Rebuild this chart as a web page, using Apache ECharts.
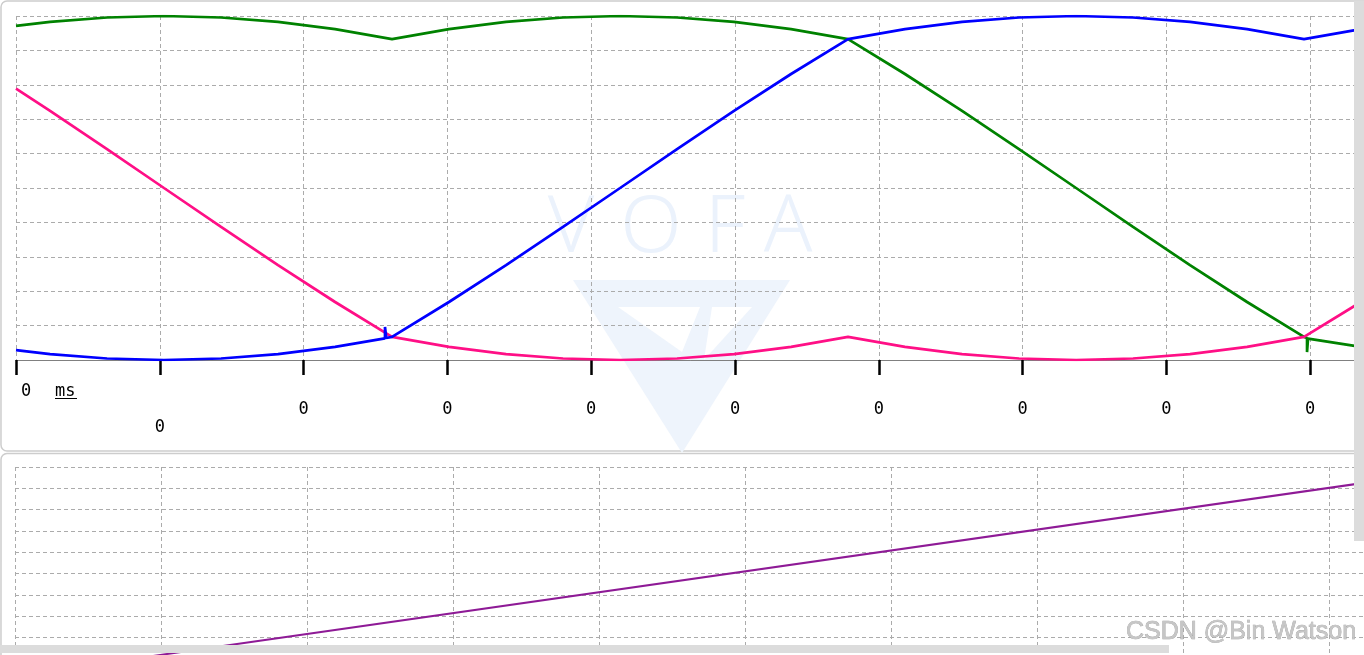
<!DOCTYPE html>
<html><head><meta charset="utf-8">
<script src="https://cdn.jsdelivr.net/npm/echarts@6/dist/echarts.min.js"></script>
<style>html,body{margin:0;padding:0;background:#fff;overflow:hidden}#c{width:1364px;height:655px}</style>
</head><body><div id="c"></div>
<script>
// tick labels of the time axis (all read as "0") and the unit
const tickLabels = ['0','0','0','0','0','0','0','0','0','0','0'];
const unitLabel = 'ms';

// phase A (green) : [time, duty]
const greenData = [[0,9.713],[0.237,9.830],[0.633,9.957],[1.029,10.0],[1.426,9.957],[1.822,9.830],[2.219,9.620],[2.615,9.330],
  [3.011,9.620],[3.408,9.830],[3.804,9.957],[4.201,10.0],[4.597,9.957],[4.993,9.830],[5.390,9.620],[5.786,9.330],
  [6.182,8.314],[6.579,7.241],[6.975,6.130],[7.372,5.0],[7.768,3.870],[8.164,2.759],[8.561,1.686],[8.957,0.670],
  [8.978,0.640],[8.978,0.230],[8.985,0.620],[9.353,0.380],[9.749,0.170]];
// phase B (blue)
const blueData = [[0,0.287],[0.237,0.170],[0.633,0.043],[1.029,0],[1.426,0.043],[1.822,0.170],[2.219,0.380],
  [2.566,0.630],[2.566,0.960],[2.575,0.640],[2.615,0.670],
  [3.011,1.686],[3.408,2.759],[3.804,3.870],[4.201,5.0],[4.597,6.130],[4.993,7.241],[5.390,8.314],[5.786,9.330],
  [6.182,9.620],[6.579,9.830],[6.975,9.957],[7.372,10.0],[7.768,9.957],[8.164,9.830],[8.561,9.620],[8.957,9.330],
  [9.353,9.620],[9.749,9.830]];
// phase C (pink)
const pinkData = [[0,7.891],[0.237,7.241],[0.633,6.130],[1.029,5.0],[1.426,3.870],[1.822,2.759],[2.219,1.686],[2.615,0.670],
  [3.011,0.380],[3.408,0.170],[3.804,0.043],[4.201,0],[4.597,0.043],[4.993,0.170],[5.390,0.380],[5.786,0.670],
  [6.182,0.380],[6.579,0.170],[6.975,0.043],[7.372,0],[7.768,0.043],[8.164,0.170],[8.561,0.380],[8.957,0.670],
  [9.353,1.686],[9.749,2.759]];
// lower panel (purple)
const purpleData = [[0,0.2],[10,10.0]];

const mono = '"DejaVu Sans Mono", "Liberation Mono", monospace';
const gridLine = {show:true, lineStyle:{type:[4,3], color:'#ababab', width:1}};
const noAxis = {axisLine:{show:false}, axisTick:{show:false}};

const chart = echarts.init(document.getElementById('c'), null, {renderer:'canvas'});
chart.setOption({
  animation:false,
  backgroundColor:'#fff',
  grid:[
    {left:16, top:16, width:1438, height:344, outerBoundsMode:'none', containLabel:false},
    {left:15, top:467, width:1460, height:213, outerBoundsMode:'none', containLabel:false}
  ],
  xAxis:[
    {type:'value', gridIndex:0, position:'bottom', min:0, max:10, interval:1,
     axisLine:{show:true, lineStyle:{color:'#808080', width:1}},
     axisTick:{show:true, length:15, lineStyle:{color:'#000', width:2.5}},
     splitLine:gridLine, showMinLabel:true,
     axisLabel:{show:true, margin:22, color:'#000', fontFamily:mono, fontSize:17, lineHeight:20,
       formatter:function(v){ const i=Math.round(v); return i===0 ? '{a|'+tickLabels[i]+'}' : ''; },
       rich:{a:{padding:[0,0,0,20], color:'#000', fontFamily:mono, fontSize:17, lineHeight:20}}}},
    Object.assign({type:'value', gridIndex:0, position:'bottom', min:0, max:10, interval:1, splitLine:{show:false},
     axisLabel:{show:true, margin:40, color:'#000', fontFamily:mono, fontSize:17, lineHeight:20,
       formatter:function(v){ const i=Math.round(v); return i>=2 ? tickLabels[i] : ''; }}}, noAxis),
    Object.assign({type:'value', gridIndex:0, position:'bottom', min:0, max:10, interval:1, splitLine:{show:false},
     axisLabel:{show:true, margin:58, color:'#000', fontFamily:mono, fontSize:17, lineHeight:20,
       formatter:function(v){ const i=Math.round(v); return i===1 ? tickLabels[i] : ''; }}}, noAxis),
    Object.assign({type:'value', gridIndex:1, position:'bottom', min:0, max:10, interval:1, splitLine:gridLine,
     axisLabel:{show:false}}, noAxis)
  ],
  yAxis:[
    Object.assign({type:'value', gridIndex:0, min:0, max:10, interval:1, splitLine:gridLine, axisLabel:{show:false}}, noAxis),
    Object.assign({type:'value', gridIndex:1, min:0, max:10, interval:1, splitLine:gridLine, axisLabel:{show:false}}, noAxis)
  ],
  series:[
    {type:'line', xAxisIndex:0, yAxisIndex:0, data:greenData, showSymbol:false, lineStyle:{color:'#008200', width:2.7}, z:3},
    {type:'line', xAxisIndex:0, yAxisIndex:0, data:pinkData, showSymbol:false, lineStyle:{color:'#ff0f86', width:2.7}, z:4},
    {type:'line', xAxisIndex:0, yAxisIndex:0, data:blueData, showSymbol:false, lineStyle:{color:'#0000ff', width:2.7}, z:5},
    {type:'line', xAxisIndex:3, yAxisIndex:1, data:purpleData, showSymbol:false, lineStyle:{color:'#8e1a96', width:2}, z:3}
  ],
  graphic:[
    {type:'rect', z:-5, shape:{x:1, y:1, width:1420, height:450, r:6}, style:{fill:'none', stroke:'#cdcdcd', lineWidth:1.5}},
    {type:'rect', z:-5, shape:{x:1, y:453.5, width:1420, height:300, r:6}, style:{fill:'none', stroke:'#cdcdcd', lineWidth:1.5}},
    // VOFA watermark
    {type:'text', z:-1, x:571, y:229, style:{text:'V', font:'300 80px "Noto Sans", "Open Sans", sans-serif', fill:'#ebf2fc', textAlign:'center', textVerticalAlign:'middle'}},
    {type:'text', z:-1, x:651, y:229, style:{text:'O', font:'300 80px "Noto Sans", "Open Sans", sans-serif', fill:'#ebf2fc', textAlign:'center', textVerticalAlign:'middle'}},
    {type:'text', z:-1, x:725, y:229, style:{text:'F', font:'300 80px "Noto Sans", "Open Sans", sans-serif', fill:'#ebf2fc', textAlign:'center', textVerticalAlign:'middle'}},
    {type:'text', z:-1, x:788, y:229, style:{text:'A', font:'300 80px "Noto Sans", "Open Sans", sans-serif', fill:'#ebf2fc', textAlign:'center', textVerticalAlign:'middle'}},
    {type:'polygon', z:-1, shape:{points:[[573,280],[790,280],[682,453]]}, style:{fill:'#eef4fc'}},
    {type:'polygon', z:-1, shape:{points:[[618,307],[700,307],[682,352]]}, style:{fill:'#ffffff'}},
    {type:'polygon', z:-1, shape:{points:[[712,307],[752,307],[704,360]]}, style:{fill:'#ffffff'}},
    // unit label
    {type:'text', z:10, x:55, y:392, style:{text:unitLabel, font:'17px '+mono, fill:'#000', textAlign:'left', textVerticalAlign:'middle'}},
    {type:'line', z:10, shape:{x1:55, y1:398.5, x2:77, y2:398.5}, style:{stroke:'#000', lineWidth:1}},
    // scrollbars
    {type:'rect', z:50, shape:{x:1354, y:1, width:10, height:540}, style:{fill:'#dcdcdc'}},
    {type:'rect', z:50, shape:{x:0, y:645, width:1169, height:8}, style:{fill:'#dcdcdc'}},
    // site watermark
    {type:'text', z:60, x:1126, y:632, style:{text:'CSDN @Bin Watson', font:'25px "Liberation Sans", Arial, sans-serif', fill:'#c6c6c6', stroke:'#9a9a9a', lineWidth:0.6, textAlign:'left', textVerticalAlign:'middle'}}
  ]
});
</script></body></html>
